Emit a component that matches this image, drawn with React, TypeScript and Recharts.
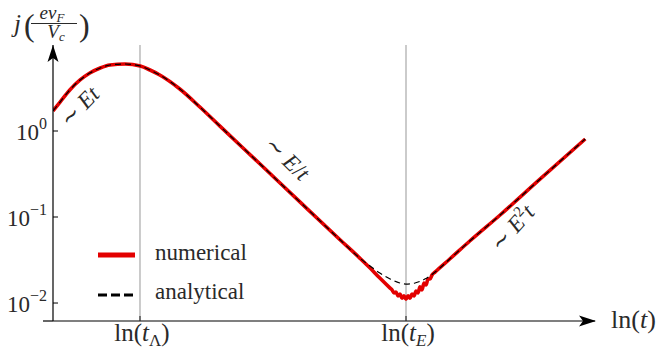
import React from "react";
import { LineChart, Line, XAxis, YAxis, ReferenceLine } from "recharts";

// ln(t) positions (arbitrary units) and current values j (in units of e v_F / V_c)
const analyticalX = [0, 0.13, 0.31, 0.5, 0.68, 0.87, 1.05, 1.33, 1.61, 1.79, 1.97, 2.34, 2.71, 3.08, 3.82, 4.56, 5.3, 5.66, 5.85, 6.03, 6.22, 6.4, 6.51, 6.68, 6.86, 7.05, 7.32, 7.69, 8.25, 8.99, 9.82];
const analyticalY = [1.71, 2.17, 3.0, 3.92, 4.72, 5.4, 5.85, 6.01, 5.7, 5.12, 4.48, 3.08, 1.9, 1.14, 0.413, 0.149, 0.0541, 0.0333, 0.0269, 0.0223, 0.019, 0.0171, 0.0166, 0.0171, 0.019, 0.0229, 0.0325, 0.0526, 0.1055, 0.277, 0.807];

const numericalX = [0, 0.13, 0.31, 0.5, 0.68, 0.87, 1.05, 1.33, 1.61, 1.79, 1.97, 2.34, 2.71, 3.08, 3.82, 4.56, 5.3, 5.66, 5.85, 6.03, 6.22, 6.255, 6.292, 6.328, 6.365, 6.402, 6.439, 6.476, 6.513, 6.55, 6.587, 6.624, 6.661, 6.697, 6.734, 6.771, 6.808, 6.845, 6.882, 6.919, 6.956, 6.993, 7.048, 7.32, 7.69, 8.25, 8.99, 9.82];
const numericalY = [1.71, 2.17, 3.0, 3.92, 4.72, 5.4, 5.85, 6.01, 5.7, 5.12, 4.48, 3.08, 1.9, 1.14, 0.413, 0.149, 0.0541, 0.0333, 0.0255, 0.0195, 0.0149, 0.0142, 0.0131, 0.0134, 0.0121, 0.0127, 0.0114, 0.0121, 0.0111, 0.0121, 0.0114, 0.0127, 0.0121, 0.0138, 0.0131, 0.0154, 0.0142, 0.0171, 0.0162, 0.019, 0.019, 0.0212, 0.0229, 0.0325, 0.0526, 0.1055, 0.277, 0.807];

const yTicks = [0.01, 0.1, 1];
const yTickExponents = ["\u22122", "\u22121", "0"];
const xMarks = [1.605, 6.513];
const xMarkSubscripts = ["\u039B", "E"];

const analyticalData = analyticalX.map((x, i) => ({ x, y: analyticalY[i] }));
const numericalData = numericalX.map((x, i) => ({ x, y: numericalY[i] }));

const FONT = "'Liberation Serif', 'DejaVu Serif', serif";
const TXT = "#2a2a2a";
const AXIS_X = 53;
const AXIS_Y = 321;

const YTick = (props: any) => {
  const { y, payload } = props;
  const idx = yTicks.indexOf(payload.value);
  return (
    <g>
      <line x1={AXIS_X} y1={y} x2={AXIS_X + 5} y2={y} stroke="#000" strokeWidth={1} />
      <text x={AXIS_X - 6} y={y + 9} textAnchor="end" fontFamily={FONT} fontSize={23} fill={TXT}>
        10
        <tspan dy={-11} fontSize={16}>{yTickExponents[idx]}</tspan>
      </text>
    </g>
  );
};

const XTick = (props: any) => {
  const { x, payload } = props;
  const idx = xMarks.indexOf(payload.value);
  return (
    <g>
      <line x1={x} y1={AXIS_Y} x2={x} y2={AXIS_Y - 5} stroke="#333" strokeWidth={1.2} />
      <text x={x + 2} y={AXIS_Y + 20} textAnchor="middle" fontFamily={FONT} fontSize={25} fill={TXT}>
        ln(
        <tspan fontStyle="italic">t</tspan>
        <tspan fontSize={17} dy={5} fontStyle={idx === 1 ? "italic" : "normal"}>{xMarkSubscripts[idx]}</tspan>
        <tspan dy={-5}>)</tspan>
      </text>
    </g>
  );
};

const Overlay = () => (
  <svg width={660} height={360} style={{ position: "absolute", left: 0, top: 0, pointerEvents: "none" }}>
    {/* axis stub and arrowheads */}
    <line x1={43} y1={AXIS_Y} x2={AXIS_X} y2={AXIS_Y} stroke="#000" strokeWidth={1.2} />
    <polygon points="53,45 47.5,62 53,58 58.5,62" fill="#000" />
    <polygon points="596,321 579,315.5 583,321 579,326.5" fill="#000" />
    {/* y label */}
    <text x={14} y={32} fontFamily={FONT} fontSize={25} fontStyle="italic" fill={TXT}>j</text>
    <text x={24} y={36} fontFamily={FONT} fontSize={32} fill={TXT}>(</text>
    <text x={52} y={19} textAnchor="middle" fontFamily={FONT} fontSize={19} fontStyle="italic" fill={TXT}>
      ev<tspan fontSize={13} dy={3}>F</tspan>
    </text>
    <line x1={31} y1={23.5} x2={77} y2={23.5} stroke={TXT} strokeWidth={1.1} />
    <text x={56} y={38} textAnchor="middle" fontFamily={FONT} fontSize={19} fontStyle="italic" fill={TXT}>
      V<tspan fontSize={13} dy={3}>c</tspan>
    </text>
    <text x={79} y={36} fontFamily={FONT} fontSize={32} fill={TXT}>)</text>
    {/* x label */}
    <text x={611} y={328} fontFamily={FONT} fontSize={26} fill={TXT}>
      ln(<tspan fontStyle="italic">t</tspan>)
    </text>
    {/* annotations */}
    <text x={85} y={112} textAnchor="middle" transform="rotate(-46 85 112)" fontFamily={FONT} fontSize={23} fill={TXT}>
      {"\u223C "}<tspan fontStyle="italic">Et</tspan>
    </text>
    <text x={282} y={164} textAnchor="middle" transform="rotate(44 282 164)" fontFamily={FONT} fontSize={23} fill={TXT}>
      {"\u223C "}<tspan fontStyle="italic">E</tspan>/<tspan fontStyle="italic">t</tspan>
    </text>
    <text x={518} y={233} textAnchor="middle" transform="rotate(-48 518 233)" fontFamily={FONT} fontSize={23} fill={TXT}>
      {"\u223C "}<tspan fontStyle="italic">E</tspan><tspan fontSize={15} dy={-9}>2</tspan><tspan dy={9} fontStyle="italic">t</tspan>
    </text>
    {/* legend */}
    <line x1={98} y1={255} x2={135} y2={255} stroke="#e30000" strokeWidth={5} />
    <text x={155} y={260} fontFamily={FONT} fontSize={23} fill={TXT}>numerical</text>
    <line x1={98} y1={295} x2={134} y2={295} stroke="#000" strokeWidth={3} strokeDasharray="9 4" />
    <text x={155} y={299} fontFamily={FONT} fontSize={23} fill={TXT}>analytical</text>
  </svg>
);

export default function App() {
  return (
    <div style={{ position: "absolute", left: 0, top: 0, width: 660, height: 360, background: "#fff" }}>
      <LineChart width={660} height={360} margin={{ top: 45, right: 65, left: 0, bottom: 0 }}>
        <XAxis
          dataKey="x"
          type="number"
          domain={[0, 10]}
          ticks={xMarks}
          tick={<XTick />}
          tickLine={false}
          tickSize={0}
          tickMargin={0}
          height={39}
          axisLine={{ stroke: "#000", strokeWidth: 1.2 }}
          allowDataOverflow
        />
        <YAxis
          dataKey="y"
          type="number"
          scale="log"
          domain={[0.00618, 10]}
          ticks={yTicks}
          tick={<YTick />}
          tickLine={false}
          tickSize={0}
          tickMargin={0}
          width={53}
          axisLine={{ stroke: "#000", strokeWidth: 1.2 }}
          allowDataOverflow
        />
        {xMarks.map((m) => (
          <ReferenceLine key={m} x={m} stroke="#a8a8a8" strokeWidth={1.2} />
        ))}
        <Line data={numericalData} dataKey="y" type="monotone" stroke="#e30000" strokeWidth={3.6} dot={false} isAnimationActive={false} />
        <Line data={analyticalData} dataKey="y" type="monotone" stroke="#000" strokeWidth={1.2} strokeDasharray="6 4" dot={false} isAnimationActive={false} />
      </LineChart>
      <Overlay />
    </div>
  );
}
